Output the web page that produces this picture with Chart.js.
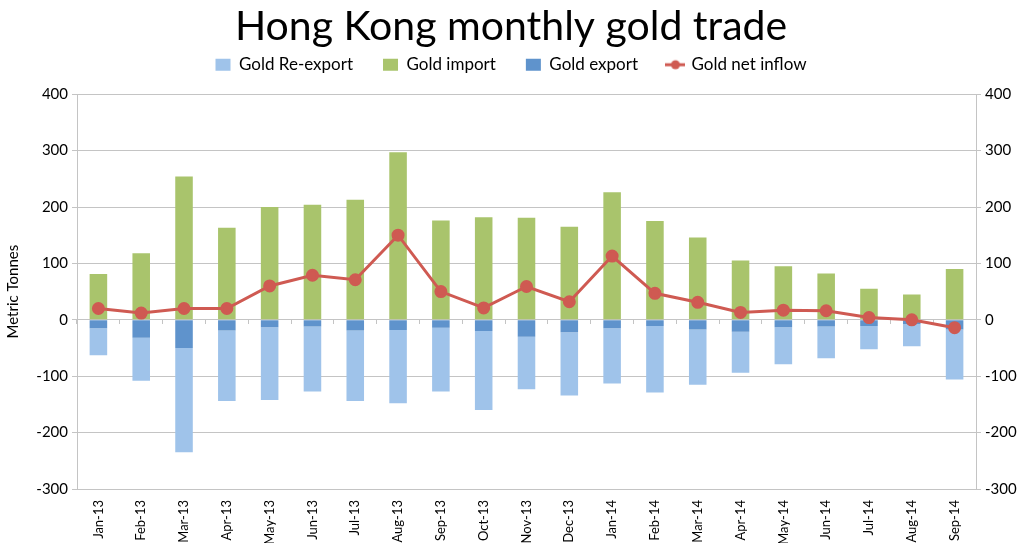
<!DOCTYPE html>
<html>
<head>
<meta charset="utf-8">
<script src="https://cdn.jsdelivr.net/npm/chart.js@4"></script>
<style>
  html, body { margin: 0; padding: 0; background: #fff; }
  #wrap { width: 1024px; height: 547px; }
</style>
</head>
<body>
<div id="wrap"><canvas id="graphic"></canvas></div>
<script>
var meses = ['Jan-13','Feb-13','Mar-13','Apr-13','May-13','Jun-13','Jul-13','Aug-13','Sep-13','Oct-13','Nov-13','Dec-13',
             'Jan-14','Feb-14','Mar-14','Apr-14','May-14','Jun-14','Jul-14','Aug-14','Sep-14'];
var goldImport = [81,118,254,163,200,204,213,297,176,182,181,165,226,175,146,105,95,82,55,45,90];
var goldExport = [-15,-32,-50,-19,-13,-12,-19,-18,-14,-20,-30,-22,-15,-11,-17,-21,-13,-12,-11,-8,-17];
var goldReExport = [-48,-76,-185,-125,-129,-115,-125,-130,-113,-140,-93,-112,-98,-118,-98,-73,-66,-56,-41,-39,-89];
var netInflow = [20,12,20,20,60,79,71,150,50,21,59,32,113,47,31,13,17,16,4,0,-14];
var yTicks = [-300,-200,-100,0,100,200,300,400];

var fonte = 'Lato, "Open Sans", sans-serif';
var gridCor = '#c4c4c4';
var corLinha = '#cf5a52';
var legendaOrdem = [1, 2, 0, 3];

// simbolo da legenda para a linha: traco com bolinha
var simboloLinha = document.createElement('canvas');
simboloLinha.width = 20;
simboloLinha.height = 12;
(function () {
    var c = simboloLinha.getContext('2d');
    c.strokeStyle = corLinha;
    c.fillStyle = corLinha;
    c.lineWidth = 3;
    c.beginPath();
    c.moveTo(0, 6);
    c.lineTo(20, 6);
    c.stroke();
    c.beginPath();
    c.arc(10, 6, 4.5, 0, 2 * Math.PI);
    c.fill();
})();

// espaco extra abaixo da legenda
var folgaLegenda = {
    id: 'folgaLegenda',
    beforeLayout: function (chart) {
        var lg = chart.legend;
        if (lg && !lg._folga) {
            var fitOrig = lg.fit;
            lg.fit = function () {
                fitOrig.call(this);
                this.height += 11;
            };
            lg._folga = true;
        }
    }
};

var ctx = document.getElementById('graphic');

var chartGraph = new Chart(ctx, {
    type: 'bar',
    data: {
        labels: meses,
        datasets: [{
            label: 'Gold export',
            data: goldExport,
            backgroundColor: '#5f93cc',
            order: 1
        }, {
            label: 'Gold Re-export',
            data: goldReExport,
            backgroundColor: '#9fc3ea',
            order: 1
        }, {
            label: 'Gold import',
            data: goldImport,
            backgroundColor: '#a9c46c',
            order: 1
        }, {
            type: 'line',
            label: 'Gold net inflow',
            data: netInflow,
            yAxisID: 'y2',
            borderColor: corLinha,
            backgroundColor: corLinha,
            borderWidth: 3,
            pointRadius: 5,
            pointHoverRadius: 5,
            tension: 0,
            order: 0
        }]
    },
    plugins: [folgaLegenda],
    options: {
        responsive: true,
        maintainAspectRatio: false,
        animation: false,
        layout: { padding: { left: 4, right: 6, top: 0, bottom: 4 } },
        datasets: {
            bar: { categoryPercentage: 1, barPercentage: 0.41 }
        },
        plugins: {
            title: {
                display: true,
                text: 'Hong Kong monthly gold trade',
                color: '#000',
                font: { family: fonte, size: 41, weight: 'normal' },
                padding: { top: 2, bottom: -25 }
            },
            legend: {
                display: true,
                labels: {
                    color: '#000',
                    font: { family: fonte, size: 17 },
                    usePointStyle: true,
                    pointStyleWidth: 15,
                    boxHeight: 12,
                    padding: 30,
                    generateLabels: function (chart) {
                        var itens = Chart.defaults.plugins.legend.labels.generateLabels(chart);
                        itens.forEach(function (it) {
                            if (it.datasetIndex === 3) {
                                it.pointStyle = simboloLinha;
                            } else {
                                it.pointStyle = 'rect';
                                it.lineWidth = 0;
                            }
                        });
                        return itens;
                    },
                    sort: function (a, b) {
                        return legendaOrdem.indexOf(a.datasetIndex) - legendaOrdem.indexOf(b.datasetIndex);
                    }
                }
            },
            tooltip: { enabled: false }
        },
        scales: {
            x: {
                stacked: true,
                grid: { display: false },
                border: { display: false },
                afterFit: function (axis) { axis.height = 54; },
                ticks: {
                    color: '#000',
                    font: { family: fonte, size: 13 },
                    minRotation: 90,
                    maxRotation: 90,
                    autoSkip: false
                }
            },
            x2: {
                type: 'category',
                labels: meses,
                position: { y: 0 },
                offset: true,
                grid: { offset: true, drawOnChartArea: false, tickLength: 4, color: gridCor },
                border: { display: false },
                ticks: { display: false }
            },
            y: {
                stacked: true,
                min: -300,
                max: 400,
                afterBuildTicks: function (axis) {
                    axis.ticks = yTicks.map(function (v) { return { value: v }; });
                },
                afterFit: function (axis) { axis.width = 73; },
                grid: { color: gridCor, tickLength: 5 },
                border: { color: gridCor },
                ticks: { color: '#000', font: { family: fonte, size: 15 }, padding: 4 },
                title: {
                    display: true,
                    text: 'Metric Tonnes',
                    color: '#000',
                    font: { family: fonte, size: 15 },
                    padding: { top: 0, bottom: 6 }
                }
            },
            y2: {
                position: 'right',
                min: -300,
                max: 400,
                afterBuildTicks: function (axis) {
                    axis.ticks = yTicks.map(function (v) { return { value: v }; });
                },
                afterFit: function (axis) { axis.width = 42; },
                grid: { drawOnChartArea: false, color: gridCor, tickLength: 5 },
                border: { color: gridCor },
                ticks: { color: '#000', font: { family: fonte, size: 15 }, padding: 4 }
            }
        }
    }
});
</script>
</body>
</html>
